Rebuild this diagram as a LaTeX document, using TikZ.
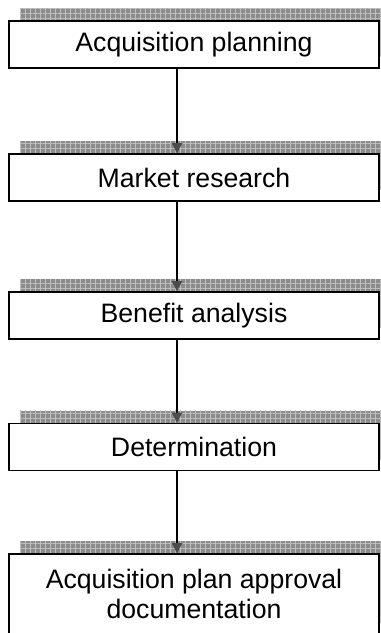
\documentclass[tikz,border=0pt]{standalone}
\usepackage{fontspec}
\setmainfont{Liberation Sans}
\usetikzlibrary{arrows.meta,patterns.meta,backgrounds}
\begin{document}
\begin{tikzpicture}[x=0.75pt,y=-0.75pt]
\tikzset{boite/.style={draw, line width=1.2pt, fill=white, minimum width=277.5pt, minimum height=35.25pt, inner sep=0pt, font=\fontsize{20}{22.5}\selectfont, align=center}}
\tikzset{ombre/.style={preaction={fill=black!45}, pattern={Lines[angle=0, distance=3.75pt, line width=0.6pt]}, pattern color=black!25,
  postaction={pattern={Lines[angle=90, distance=3.75pt, line width=0.6pt]}, pattern color=black!25}}}
\tikzset{fleche/.style={line width=1.5pt, -{Triangle[width=7.5pt, length=7.5pt, color=black!70]}}}
\useasboundingbox (0,0) rectangle (381,633);
\clip (0,0) rectangle (381,633);
\node[boite] (E1) at (194,44.5) {Acquisition planning};
\node[boite] (E2) at (194,177.5) {Market research};
\node[boite] (E3) at (194,315.5) {Benefit analysis};
\node[boite] (E4) at (194,447) {Determination};
\node[boite, minimum height=60pt] (E5) at (194,594) {Acquisition plan approval\\documentation};
\begin{scope}[on background layer]
\foreach \e in {E1,E2,E3,E4,E5}
  \fill[ombre] ([shift={(9pt,9pt)}]\e.south west) rectangle ([shift={(9pt,9pt)}]\e.north east);
\end{scope}
\draw[fleche] ([xshift=-12.75pt]E1.south) -- ([xshift=-12.75pt]E2.north);
\draw[fleche] ([xshift=-12.75pt]E2.south) -- ([xshift=-12.75pt]E3.north);
\draw[fleche] ([xshift=-12.75pt]E3.south) -- ([xshift=-12.75pt]E4.north);
\draw[fleche] ([xshift=-12.75pt]E4.south) -- ([xshift=-12.75pt]E5.north);
\end{tikzpicture}
\end{document}
